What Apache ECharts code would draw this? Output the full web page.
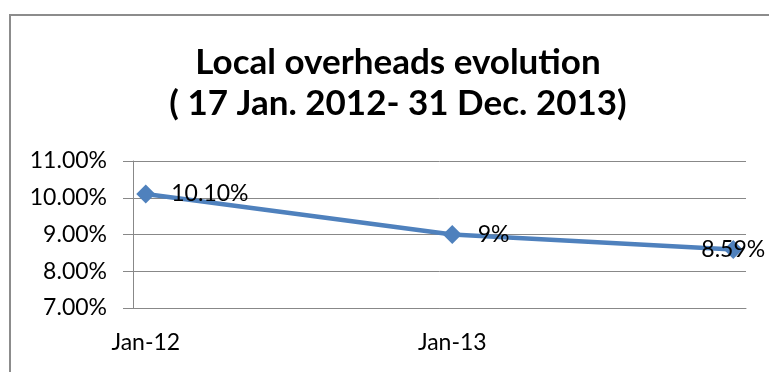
<!DOCTYPE html>
<html>
<head>
<meta charset="utf-8">
<script src="https://cdn.jsdelivr.net/npm/echarts@6/dist/echarts.min.js"></script>
<style>
  html, body { margin: 0; padding: 0; background: #fff; }
  #chart { width: 769px; height: 372px; }
</style>
</head>
<body>
<div id="chart"></div>
<script>
// month categories on the date axis
const months = [
  'Jan-12', 'Feb-12', 'Mar-12', 'Apr-12', 'May-12', 'Jun-12',
  'Jul-12', 'Aug-12', 'Sep-12', 'Oct-12', 'Nov-12', 'Dec-12',
  'Jan-13', 'Feb-13', 'Mar-13', 'Apr-13', 'May-13', 'Jun-13',
  'Jul-13', 'Aug-13', 'Sep-13', 'Oct-13', 'Nov-13', 'Dec-13'
]
const pointMonths = ['Jan-12', 'Jan-13', 'Dec-13']
const overheads = [10.10, 9.00, 8.59]
const pointLabels = ['10.10%', '9%', '8.59%']
const labelPositions = ['right', 'right', 'inside']

const yTicks = [7, 8, 9, 10, 11]

const gray = '#888888'
const font = 'Lato'

const chart = echarts.init(document.getElementById('chart'))

const option = {
  backgroundColor: '#fff',
  animation: false,
  title: {
    text: 'Local overheads evolution\n( 17 Jan. 2012- 31 Dec. 2013)',
    left: 393,
    top: 37,
    textAlign: 'center',
    textStyle: {
      fontFamily: font,
      fontWeight: 'bold',
      fontSize: 35,
      lineHeight: 41,
      color: '#000'
    }
  },
  graphic: [{
    type: 'rect',
    shape: { x: 10, y: 15, width: 900, height: 500 },
    style: { fill: 'none', stroke: '#8c8c8c', lineWidth: 2 },
    silent: true
  }],
  grid: {
    left: 133,
    right: 23,
    top: 161,
    bottom: 64
  },
  xAxis: {
    type: 'category',
    data: months,
    boundaryGap: true,
    axisLine: { lineStyle: { color: gray, width: 1 } },
    axisTick: {
      length: 10,
      interval: (i) => i % 12 === 0,
      lineStyle: { color: gray }
    },
    axisLabel: {
      interval: (i) => i % 12 === 0 && i < 24,
      margin: 23,
      fontFamily: font,
      fontSize: 23,
      color: '#000'
    },
    splitLine: { show: false }
  },
  yAxis: {
    type: 'value',
    min: yTicks[0],
    max: yTicks[yTicks.length - 1],
    interval: 1,
    axisLine: { show: true, lineStyle: { color: gray, width: 1 } },
    axisTick: { show: true, length: 10, lineStyle: { color: gray } },
    axisLabel: {
      margin: 26,
      fontFamily: font,
      fontSize: 23,
      color: '#000',
      formatter: (v) => v.toFixed(2) + '%'
    },
    splitLine: { lineStyle: { color: gray, width: 1 } }
  },
  series: [{
    type: 'line',
    data: pointMonths.map((m, i) => ({
      value: [m, overheads[i]],
      label: { position: labelPositions[i] }
    })),
    showAllSymbol: true,
    symbol: 'diamond',
    symbolSize: 19,
    lineStyle: { color: '#4f81bd', width: 4.5 },
    itemStyle: { color: '#4f81bd' },
    label: {
      show: true,
      distance: 16,
      fontFamily: font,
      fontSize: 23,
      color: '#000',
      formatter: (p) => pointLabels[p.dataIndex]
    }
  }]
}

chart.setOption(option)
</script>
</body>
</html>
